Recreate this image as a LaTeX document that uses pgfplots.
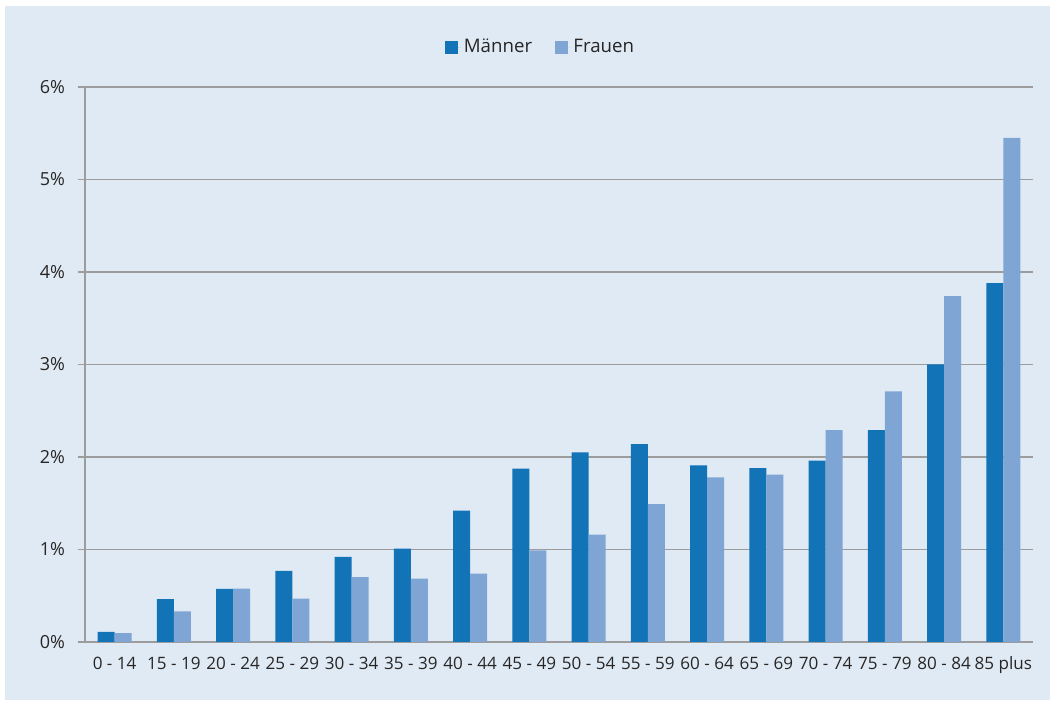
\documentclass[border=0pt]{standalone}
\usepackage{pgfplots}
\pgfplotsset{compat=1.18}
\usepackage{fontspec}
\setmainfont{Open Sans}
\definecolor{bg}{HTML}{E0EAF4}
\definecolor{men}{HTML}{1273B7}
\definecolor{women}{HTML}{7FA5D4}
\definecolor{gridc}{HTML}{9C9C9C}
\begin{document}
\begin{tikzpicture}[x=1pt,y=1pt]
\fill[white] (-63.75,-45) rectangle (723.75,481.5);
\fill[bg] (-60,-43.5) rectangle (723.75,477);
\begin{axis}[
  at={(0,0)}, anchor=south west,
  scale only axis, width=711pt, height=416.25pt,
  xmin=-0.5, xmax=15.5, ymin=0, ymax=6,
  ybar=0pt, bar width=12.75pt,
  axis x line*=bottom, axis y line*=left,
  axis line style={gridc, line width=0.9pt, -},
  xtick={0,...,15},
  xticklabels={0 - 14,15 - 19,20 - 24,25 - 29,30 - 34,35 - 39,40 - 44,45 - 49,50 - 54,55 - 59,60 - 64,65 - 69,70 - 74,75 - 79,80 - 84,85 plus},
  x tick style={draw=none},
  minor xtick={-0.5,0.5,...,15.5},
  minor x tick style={gridc, line width=0.9pt},
  minor tick length=4pt,
  ytick={0,...,6},
  yticklabels={0\%,1\%,2\%,3\%,4\%,5\%,6\%},
  y tick style={gridc, line width=0.9pt},
  major tick length=5.5pt,
  tick align=outside,
  ymajorgrids, major grid style={gridc, line width=0.9pt},
  ticklabel style={text=black!85},
  xticklabel style={yshift=-2pt, font=\fontsize{12.8}{15}\selectfont},
  yticklabel style={xshift=-6pt, font=\fontsize{13.5}{15}\selectfont},
  legend style={at={(0.481,1.072)}, anchor=center, draw=none, fill=none,
    legend columns=2, font=\fontsize{14}{16}\selectfont, text=black!85,
    /tikz/every even column/.append style={column sep=15pt}},
  legend image code/.code={\path (0pt,0pt) -- (12pt,0pt);\fill[#1,draw=none] (0pt,-4.875pt) rectangle (9.75pt,4.875pt);},
]
\addplot[fill=men, draw=none] coordinates {(0,0.11) (1,0.463) (2,0.573) (3,0.77) (4,0.92) (5,1.01) (6,1.42) (7,1.875) (8,2.05) (9,2.14) (10,1.91) (11,1.88) (12,1.96) (13,2.29) (14,3.0) (15,3.88)};
\addplot[fill=women, draw=none] coordinates {(0,0.095) (1,0.33) (2,0.578) (3,0.47) (4,0.70) (5,0.686) (6,0.74) (7,0.99) (8,1.16) (9,1.49) (10,1.78) (11,1.81) (12,2.29) (13,2.71) (14,3.74) (15,5.45)};
\legend{Männer,Frauen}
\end{axis}
\pgfresetboundingbox
\useasboundingbox (-63.75,-45) rectangle (723.75,481.5);
\end{tikzpicture}
\end{document}
